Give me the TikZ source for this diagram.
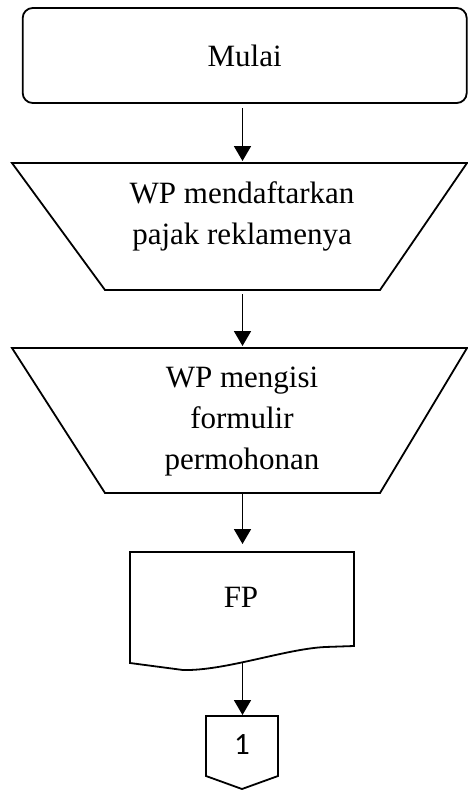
\documentclass[tikz,border=0pt]{standalone}
\usepackage{fontspec}
\setmainfont{Liberation Serif}
\newfontfamily\numfont{Carlito}
\usetikzlibrary{arrows.meta}
\begin{document}
\begin{tikzpicture}[x=1pt,y=-1pt,line width=1.8pt,
  flow/.style={-{Triangle[width=17pt,length=15pt]}},
  txt/.style={font=\fontsize{31}{41}\selectfont,align=center,inner sep=0pt},
  shapeline/.style={draw=black,line width=1.8pt,line join=miter}]
\useasboundingbox (0,0) rectangle (467,790);
% start terminal
\node[draw,rounded corners=10pt,minimum width=444pt,minimum height=95pt,inner sep=0pt,font=\fontsize{31}{41}\selectfont] (start) at (244.7,55.5) {Mulai};
% input 1 (manual operation trapezium)
\draw[shapeline] (12,163) -- (467,163) -- (380,290) -- (105,290) -- cycle;
\coordinate (t1top) at (242.5,161);
\coordinate (t1bot) at (242.5,290);
\node[txt] (t1) at (242,216.5) {WP mendaftarkan\\pajak reklamenya};
% input 2
\draw[shapeline] (12,348) -- (467,348) -- (380,493) -- (105,493) -- cycle;
\coordinate (t2top) at (242.5,346);
\coordinate (t2bot) at (242.5,493);
\node[txt] (t2) at (242,422) {WP mengisi\\formulir\\permohonan};
% document
\draw[shapeline] (130,552) -- (354,552) -- (354,646) -- (325,647)
  .. controls (285,649) and (225,671) .. (183,670) -- (130,663) -- cycle;
\coordinate (doctop) at (242.5,544);
\coordinate (docbot) at (242.5,663);
\node[txt] (fp) at (241,597.5) {FP};
% off-page connector
\draw[shapeline] (206,716) -- (278,716) -- (278,776) -- (242,789) -- (206,776) -- cycle;
\coordinate (contop) at (242.5,715);
\node[inner sep=0pt,font=\numfont\fontsize{31}{41}\selectfont] (con) at (242,745) {1};
% connectors
\draw[flow,shorten <=4.5pt] (start.south -| t1top) -- (t1top);
\draw[flow,shorten <=4pt] (t1bot) -- (t2top);
\draw[flow] (t2bot) -- (doctop);
\draw[flow] (docbot) -- (contop);
\end{tikzpicture}
\end{document}
